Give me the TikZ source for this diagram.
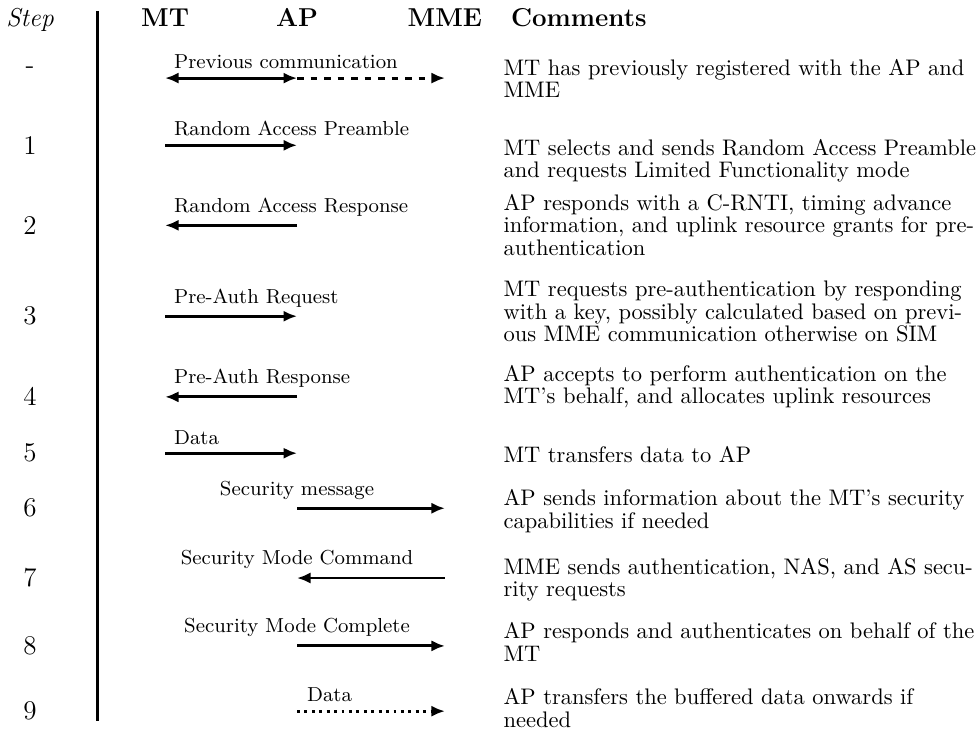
\documentclass[tikz,border=0pt]{standalone}
\usepackage{tikz}
\usetikzlibrary{arrows.meta}

\tikzset{
    head/.style={font=\fontsize{11.5}{13}\selectfont\bfseries, anchor=base},
    stepnum/.style={font=\large},
    msg/.style={line width=1.3pt, -{Latex[length=6pt,width=5pt]}},
    lbl/.style={font=\small},
    comment/.style={font=\fontsize{10}{10}\selectfont, align=left, anchor=base west, inner sep=0pt},
}

\begin{document}
\begin{tikzpicture}[
    every node/.style={font=\small},
]
    \useasboundingbox (0,0) rectangle (15.31,-11.48);

    % Header
    \node[head, font=\fontsize{11.5}{13}\selectfont\itshape] (step) at (0.47,-0.42) {Step};
    \node[head] (mt) at (2.58,-0.42) {MT};
    \node[head] (ap) at (4.64,-0.42) {AP};
    \node[head] (mme) at (6.95,-0.42) {MME};
    \node[head, anchor=base west] (cmt) at (7.86,-0.42) {Comments};

    % Separator
    \draw[line width=1.3pt] (1.52,-0.17) -- (1.52,-11.27);

    % Step numbers
    \node[stepnum] (s0) at (0.47,-1.09) {-};
    \node[stepnum] (s1) at (0.47,-2.27) {1};
    \node[stepnum] (s2) at (0.47,-3.52) {2};
    \node[stepnum] (s3) at (0.47,-4.94) {3};
    \node[stepnum] (s4) at (0.47,-6.20) {4};
    \node[stepnum] (s5) at (0.47,-7.08) {5};
    \node[stepnum] (s6) at (0.47,-7.94) {6};
    \node[stepnum] (s7) at (0.47,-9.03) {7};
    \node[stepnum] (s8) at (0.47,-10.09) {8};
    \node[stepnum] (s9) at (0.47,-11.11) {9};

    % Previous communication
    \coordinate (r0) at (0.47,-1.22);
    \draw[msg, {Latex[length=6pt,width=5pt]}-{Latex[length=6pt,width=5pt]}] (mt |- r0) -- (ap |- r0)
        node[lbl, pos=0, above right] {Previous communication};
    \draw[msg, dashed] (ap |- r0) -- (mme |- r0);

    % Random access and pre-authentication
    \draw[msg] (mt |- s1) -- (ap |- s1) node[lbl, pos=0, above right] {Random Access Preamble};
    \draw[msg] (ap |- s2) -- (mt |- s2) node[lbl, pos=1, above right] {Random Access Response};
    \draw[msg] (mt |- s3) -- (ap |- s3) node[lbl, pos=0, above right] {Pre-Auth Request};
    \draw[msg] (ap |- s4) -- (mt |- s4) node[lbl, pos=1, above right] {Pre-Auth Response};
    \draw[msg] (mt |- s5) -- (ap |- s5) node[lbl, pos=0, above right] {Data};

    % Security towards the MME
    \draw[msg] (ap |- s6) -- (mme |- s6) node[lbl, pos=0, above] {Security message};
    \draw[msg] (mme |- s7) -- (ap |- s7) node[lbl, pos=1, above] {Security Mode Command};
    \draw[msg] (ap |- s8) -- (mme |- s8) node[lbl, pos=0, above] {Security Mode Complete};
    \draw[msg, dotted] (ap |- s9) -- (mme |- s9) node[lbl, pos=0.22, above] {Data};

    % Comments (anchored on the last line)
    \node[comment] (c0) at (7.86,-1.53) {MT has previously registered with the AP and\\MME};
    \node[comment] (c1) at (7.86,-2.78) {MT selects and sends Random Access Preamble\\and requests Limited Functionality mode};
    \node[comment] (c2) at (7.86,-3.99) {AP responds with a C-RNTI, timing advance\\information, and uplink resource grants for pre-\\authentication};
    \node[comment] (c3) at (7.86,-5.34) {MT requests pre-authentication by responding\\with a key, possibly calculated based on previ-\\ous MME communication otherwise on SIM};
    \node[comment] (c4) at (7.86,-6.31) {AP accepts to perform authentication on the\\MT's behalf, and allocates uplink resources};
    \node[comment] (c5) at (7.86,-7.23) {MT transfers data to AP};
    \node[comment] (c6) at (7.86,-8.25) {AP sends information about the MT's security\\capabilities if needed};
    \node[comment] (c7) at (7.86,-9.32) {MME sends authentication, NAS, and AS secu-\\rity requests};
    \node[comment] (c8) at (7.86,-10.33) {AP responds and authenticates on behalf of the\\MT};
    \node[comment] (c9) at (7.86,-11.36) {AP transfers the buffered data onwards if\\needed};
\end{tikzpicture}
\end{document}
